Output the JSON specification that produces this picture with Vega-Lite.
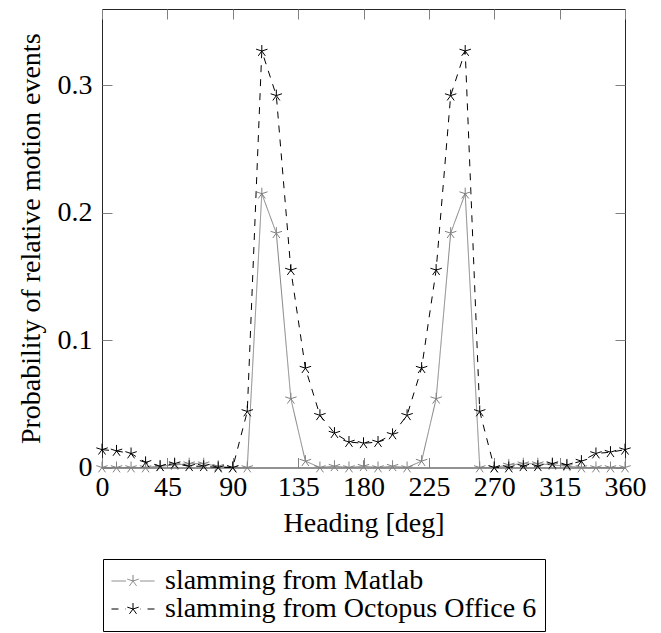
{
  "$schema": "https://vega.github.io/schema/vega-lite/v6.json",
  "autosize": {"type": "none"},
  "padding": {"left": 102, "top": 9, "right": 36, "bottom": 166},
  "width": 523,
  "height": 458.5,
  "config": {
    "view": {"stroke": "#262626", "strokeWidth": 1},
    "font": "Liberation Serif",
    "axis": {
      "labelFont": "Liberation Serif",
      "labelFontSize": 28,
      "labelColor": "#000000",
      "titleFont": "Liberation Serif",
      "titleFontSize": 28,
      "titleFontWeight": "normal",
      "titleColor": "#000000",
      "domain": false,
      "grid": false,
      "tickColor": "#808080",
      "tickWidth": 1,
      "tickSize": -10
    },
    "legend": {
      "labelFont": "Liberation Serif",
      "labelFontSize": 28,
      "labelColor": "#000000",
      "labelLimit": 0,
      "strokeColor": "#000000",
      "fillColor": "#ffffff",
      "padding": 8,
      "rowPadding": 0,
      "symbolStrokeWidth": 1
    }
  },
  "data": {
    "values": [
      {"h": 0, "p": 0, "s": "Matlab"},
      {"h": 10, "p": 0, "s": "Matlab"},
      {"h": 20, "p": 0, "s": "Matlab"},
      {"h": 30, "p": 0, "s": "Matlab"},
      {"h": 40, "p": 0.001, "s": "Matlab"},
      {"h": 50, "p": 0.002, "s": "Matlab"},
      {"h": 60, "p": 0.003, "s": "Matlab"},
      {"h": 70, "p": 0.003, "s": "Matlab"},
      {"h": 80, "p": 0.001, "s": "Matlab"},
      {"h": 90, "p": 0, "s": "Matlab"},
      {"h": 100, "p": 0, "s": "Matlab"},
      {"h": 110, "p": 0.215, "s": "Matlab"},
      {"h": 120, "p": 0.184, "s": "Matlab"},
      {"h": 130, "p": 0.054, "s": "Matlab"},
      {"h": 140, "p": 0.005, "s": "Matlab"},
      {"h": 150, "p": 0, "s": "Matlab"},
      {"h": 160, "p": 0.001, "s": "Matlab"},
      {"h": 170, "p": 0, "s": "Matlab"},
      {"h": 180, "p": 0.001, "s": "Matlab"},
      {"h": 190, "p": 0, "s": "Matlab"},
      {"h": 200, "p": 0.001, "s": "Matlab"},
      {"h": 210, "p": 0, "s": "Matlab"},
      {"h": 220, "p": 0.005, "s": "Matlab"},
      {"h": 230, "p": 0.054, "s": "Matlab"},
      {"h": 240, "p": 0.184, "s": "Matlab"},
      {"h": 250, "p": 0.215, "s": "Matlab"},
      {"h": 260, "p": 0, "s": "Matlab"},
      {"h": 270, "p": 0, "s": "Matlab"},
      {"h": 280, "p": 0.002, "s": "Matlab"},
      {"h": 290, "p": 0.003, "s": "Matlab"},
      {"h": 300, "p": 0.003, "s": "Matlab"},
      {"h": 310, "p": 0.002, "s": "Matlab"},
      {"h": 320, "p": 0.001, "s": "Matlab"},
      {"h": 330, "p": 0, "s": "Matlab"},
      {"h": 340, "p": 0, "s": "Matlab"},
      {"h": 350, "p": 0, "s": "Matlab"},
      {"h": 360, "p": 0, "s": "Matlab"},
      {"h": 0, "p": 0.014, "s": "Octopus Office 6"},
      {"h": 10, "p": 0.013, "s": "Octopus Office 6"},
      {"h": 20, "p": 0.011, "s": "Octopus Office 6"},
      {"h": 30, "p": 0.004, "s": "Octopus Office 6"},
      {"h": 40, "p": 0.001, "s": "Octopus Office 6"},
      {"h": 50, "p": 0.003, "s": "Octopus Office 6"},
      {"h": 60, "p": 0.001, "s": "Octopus Office 6"},
      {"h": 70, "p": 0.001, "s": "Octopus Office 6"},
      {"h": 80, "p": 0, "s": "Octopus Office 6"},
      {"h": 90, "p": 0, "s": "Octopus Office 6"},
      {"h": 100, "p": 0.044, "s": "Octopus Office 6"},
      {"h": 110, "p": 0.327, "s": "Octopus Office 6"},
      {"h": 120, "p": 0.292, "s": "Octopus Office 6"},
      {"h": 130, "p": 0.155, "s": "Octopus Office 6"},
      {"h": 140, "p": 0.078, "s": "Octopus Office 6"},
      {"h": 150, "p": 0.041, "s": "Octopus Office 6"},
      {"h": 160, "p": 0.027, "s": "Octopus Office 6"},
      {"h": 170, "p": 0.02, "s": "Octopus Office 6"},
      {"h": 180, "p": 0.019, "s": "Octopus Office 6"},
      {"h": 190, "p": 0.02, "s": "Octopus Office 6"},
      {"h": 200, "p": 0.026, "s": "Octopus Office 6"},
      {"h": 210, "p": 0.041, "s": "Octopus Office 6"},
      {"h": 220, "p": 0.078, "s": "Octopus Office 6"},
      {"h": 230, "p": 0.155, "s": "Octopus Office 6"},
      {"h": 240, "p": 0.292, "s": "Octopus Office 6"},
      {"h": 250, "p": 0.327, "s": "Octopus Office 6"},
      {"h": 260, "p": 0.044, "s": "Octopus Office 6"},
      {"h": 270, "p": 0, "s": "Octopus Office 6"},
      {"h": 280, "p": 0, "s": "Octopus Office 6"},
      {"h": 290, "p": 0.001, "s": "Octopus Office 6"},
      {"h": 300, "p": 0.001, "s": "Octopus Office 6"},
      {"h": 310, "p": 0.003, "s": "Octopus Office 6"},
      {"h": 320, "p": 0.002, "s": "Octopus Office 6"},
      {"h": 330, "p": 0.005, "s": "Octopus Office 6"},
      {"h": 340, "p": 0.011, "s": "Octopus Office 6"},
      {"h": 350, "p": 0.012, "s": "Octopus Office 6"},
      {"h": 360, "p": 0.014, "s": "Octopus Office 6"}
    ]
  },
  "layer": [
    {
      "mark": {"type": "line", "strokeWidth": 1, "clip": false},
      "encoding": {
        "x": {
          "field": "h", "type": "quantitative",
          "scale": {"domain": [0, 360], "nice": false, "zero": false},
          "axis": {"orient": "bottom", "values": [0, 45, 90, 135, 180, 225, 270, 315, 360], "labelPadding": 16, "title": "Heading [deg]", "titlePadding": 8, "labelFlush": false}
        },
        "y": {
          "field": "p", "type": "quantitative",
          "scale": {"domain": [0, 0.36], "nice": false},
          "axis": {"orient": "left", "values": [0, 0.1, 0.2, 0.3], "format": "~g", "labelPadding": 20, "title": "Probability of relative motion events", "titlePadding": 12, "labelFlush": false}
        },
        "color": {
          "field": "s", "type": "nominal",
          "scale": {"domain": ["Matlab", "Octopus Office 6"], "range": ["#808080", "#000000"]},
          "legend": {
            "title": null,
            "orient": "none",
            "legendX": 1,
            "legendY": 550,
            "symbolType": "M-1.593,0H-0.519M1.593,0H0.519M0,-0.444L0,0M-0.422,-0.137L0,0M-0.261,0.359L0,0M0.261,0.359L0,0M0.422,-0.137L0,0",
            "symbolSize": 729,
            "symbolOffset": 8,
            "labelOffset": 18,
            "labelExpr": "'slamming from ' + datum.label"
          }
        },
        "strokeDash": {
          "field": "s", "type": "nominal",
          "scale": {"domain": ["Matlab", "Octopus Office 6"], "range": [[1, 0], [7, 7]]},
          "legend": null
        }
      }
    },
    {
      "mark": {"type": "point", "shape": "M0,-1L0,0M-0.951,-0.309L0,0M-0.588,0.809L0,0M0.588,0.809L0,0M0.951,-0.309L0,0", "filled": false, "size": 144, "strokeWidth": 1, "opacity": 1, "clip": false},
      "encoding": {
        "x": {"field": "h", "type": "quantitative", "axis": null},
        "y": {"field": "p", "type": "quantitative", "axis": null},
        "color": {"field": "s", "type": "nominal", "legend": null}
      }
    },
    {
      "mark": {"type": "point", "opacity": 0},
      "encoding": {
        "x": {"field": "h", "type": "quantitative", "axis": {"orient": "top", "values": [0, 45, 90, 135, 180, 225, 270, 315, 360], "labels": false, "title": null}},
        "y": {"field": "p", "type": "quantitative", "axis": {"orient": "right", "values": [0, 0.1, 0.2, 0.3], "labels": false, "title": null}}
      }
    }
  ],
  "resolve": {"axis": {"x": "independent", "y": "independent"}}
}
